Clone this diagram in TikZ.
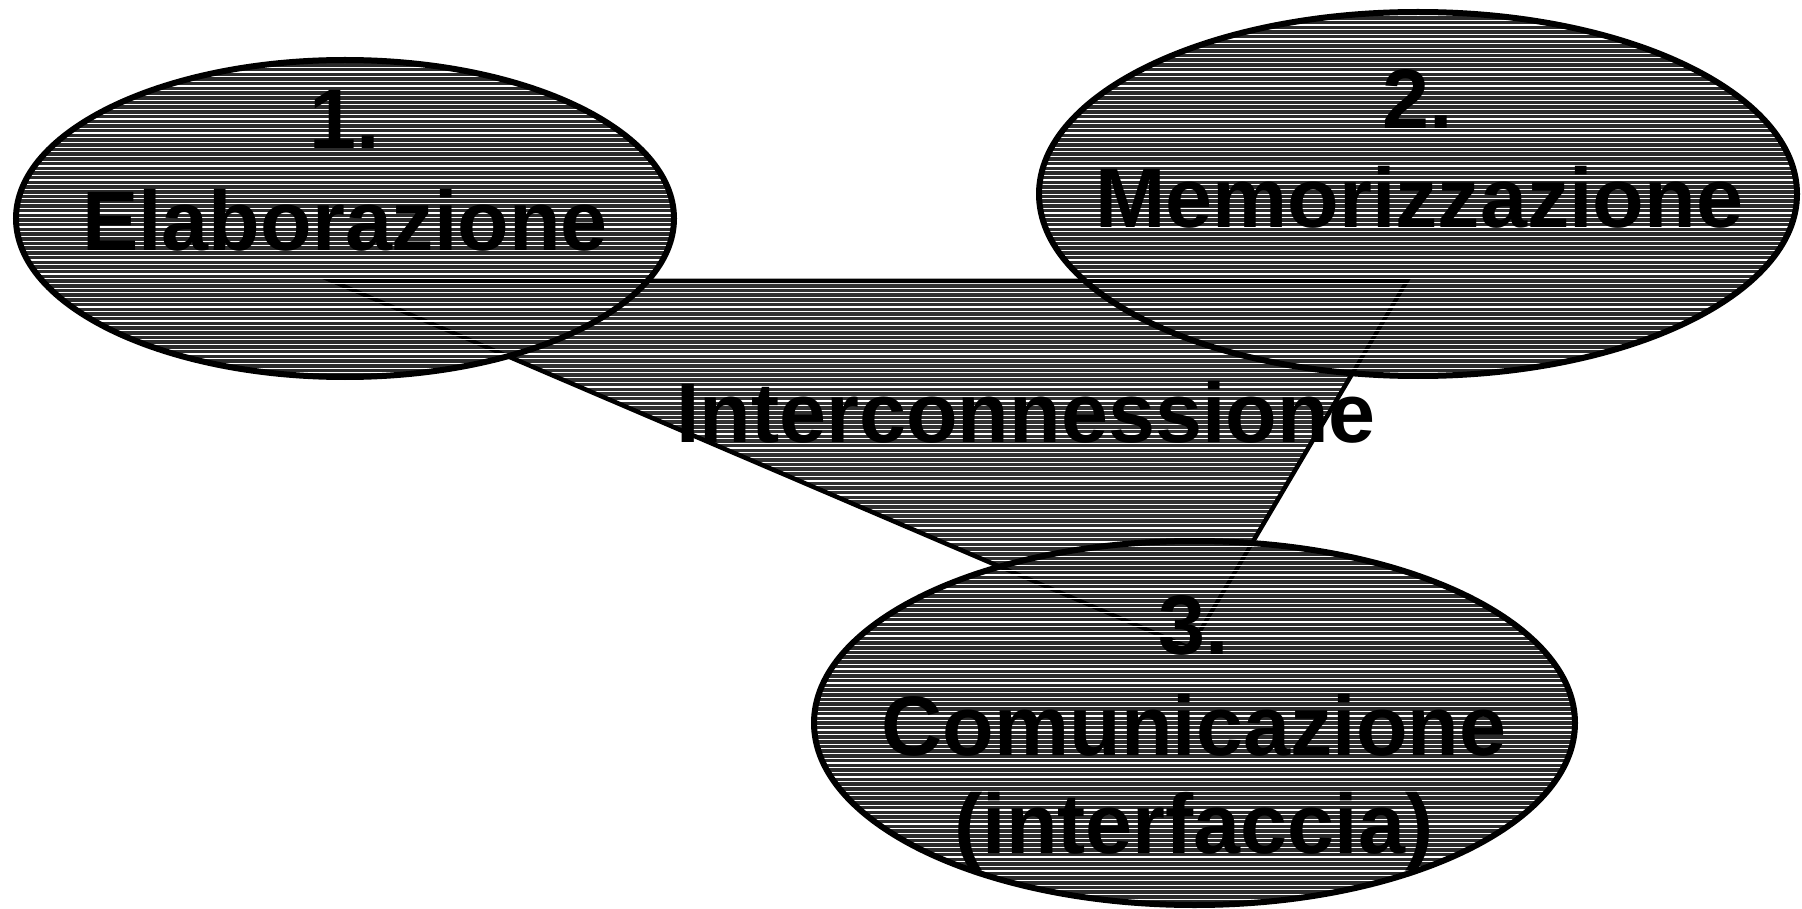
\documentclass[tikz,border=0pt]{standalone}
\usepackage{fontspec}
\setmainfont{Liberation Sans}
\definecolor{ellfill}{HTML}{2A2A2A}
\definecolor{trifill}{HTML}{303030}
\newcommand{\hstripes}{\foreach \yy in {1.5,6.2,...,909} {\draw[stripe] (0,\yy) -- (1802,\yy);}}
\begin{document}
\begin{tikzpicture}[x=1pt,y=-1pt,
  stripe/.style={white,line width=1.2pt},
  outline/.style={black,line width=6pt},
  triline/.style={black,line width=4.5pt,line join=miter},
  innerline/.style={black,line width=4pt,line join=miter},
  lbl/.style={font=\fontsize{84.5pt}{100pt}\selectfont\bfseries,inner sep=0pt,anchor=base}]
\useasboundingbox (0,0) rectangle (1802,909);
% triangle (interconnection)
\coordinate (tA) at (332,281);
\coordinate (tB) at (1407,281);
\coordinate (tC) at (1190,648);
\fill[trifill] (tA) -- (tB) -- (tC) -- cycle;
\begin{scope}\clip (tA) -- (tB) -- (tC) -- cycle; \hstripes \end{scope}
\draw[triline] (tA) -- (tB) -- (tC) -- cycle;
% ellipse centres
\coordinate (c1) at (345,218.5);
\coordinate (c2) at (1418,194);
\coordinate (c3) at (1194.5,723);
% ellipse 1
\fill[ellfill] (c1) ellipse [x radius=329pt,y radius=158.5pt];
\begin{scope}\clip (c1) ellipse [x radius=329pt,y radius=158.5pt];
  \draw[innerline] (tA) -- (tB) -- (tC) -- cycle; \hstripes \end{scope}
\draw[outline] (c1) ellipse [x radius=329pt,y radius=158.5pt];
% ellipse 2
\fill[ellfill] (c2) ellipse [x radius=379pt,y radius=182pt];
\begin{scope}\clip (c2) ellipse [x radius=379pt,y radius=182pt];
  \draw[innerline] (tA) -- (tB) -- (tC) -- cycle; \hstripes \end{scope}
\draw[outline] (c2) ellipse [x radius=379pt,y radius=182pt];
% ellipse 3
\fill[ellfill] (c3) ellipse [x radius=380.5pt,y radius=182pt];
\begin{scope}\clip (c3) ellipse [x radius=380.5pt,y radius=182pt];
  \draw[innerline] (tA) -- (tB) -- (tC) -- cycle; \hstripes \end{scope}
\draw[outline] (c3) ellipse [x radius=380.5pt,y radius=182pt];
% labels
\node[lbl] (n1a) at (345,149) {1.};
\node[lbl] (n1b) at (345,250.5) {Elaborazione};
\node[lbl] (n2a) at (1418,129) {2.};
\node[lbl] (n2b) at (1419,227.5) {Memorizzazione};
\node[lbl] (ni) at (1026,442) {Interconnessione};
\node[lbl] (n3a) at (1194,654) {3.};
\node[lbl] (n3b) at (1194,755) {Comunicazione};
\node[lbl] (n3c) at (1194,853) {(interfaccia)};
\end{tikzpicture}
\end{document}
